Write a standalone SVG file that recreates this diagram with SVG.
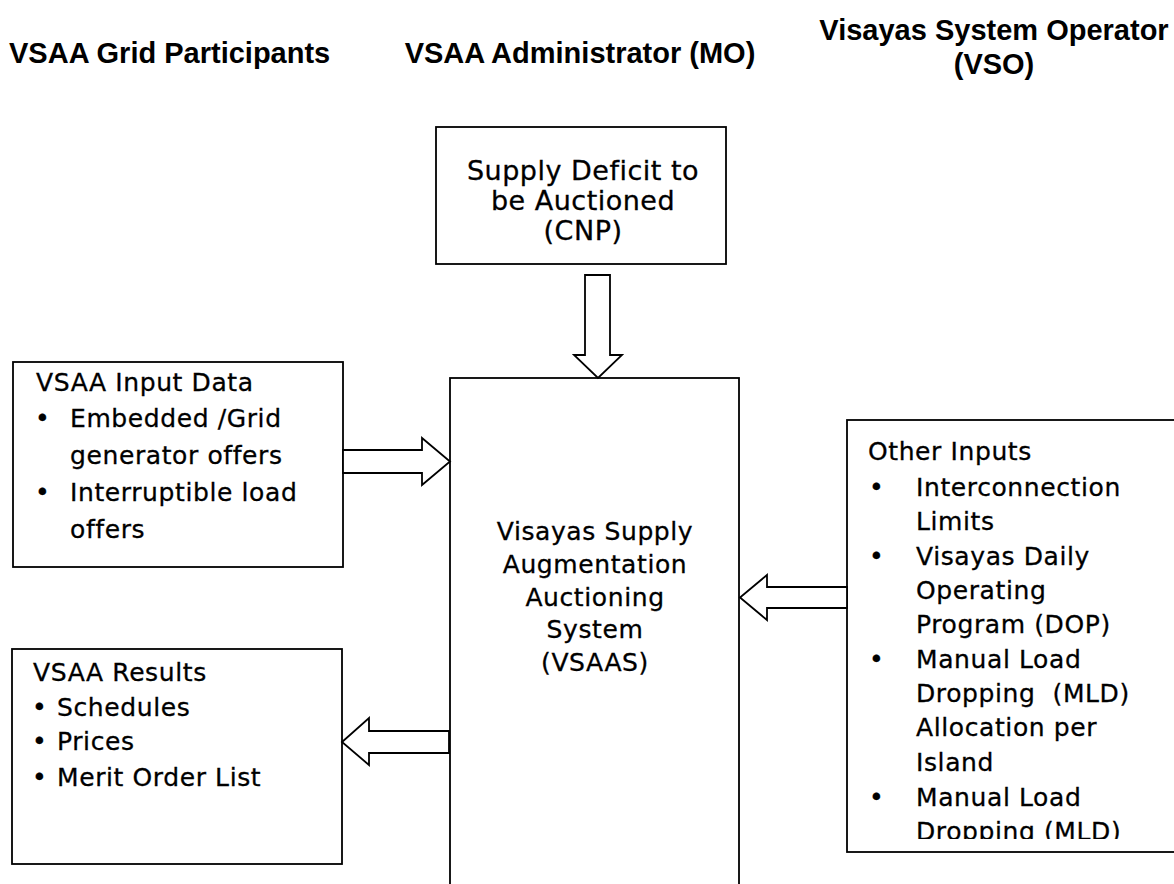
<svg xmlns="http://www.w3.org/2000/svg" width="1174" height="884" viewBox="0 0 1174 884">
<style>
.hdr{font-family:"Liberation Sans",Arial,sans-serif;font-weight:bold;font-size:29px;fill:#000}
.t{font-family:"DejaVu Sans",Verdana,sans-serif;font-size:25px;letter-spacing:0.6px;fill:#000;stroke:#000;stroke-width:0.3;white-space:pre}
.big{font-size:27px;letter-spacing:0.5px}
.c{text-anchor:middle}
.box{fill:#fff;stroke:#000;stroke-width:1.8}
.arr{fill:#fff;stroke:#000;stroke-width:1.8;stroke-linejoin:miter}
</style>
<defs>
<clipPath id="clipOther"><rect x="847" y="420" width="330" height="419"/></clipPath>
</defs>
<rect width="1174" height="884" fill="#fff"/>
<g id="headers">
<text class="hdr" x="9" y="63">VSAA Grid Participants</text>
<text class="hdr c" x="580" y="63">VSAA Administrator (MO)</text>
<text class="hdr c" x="994" y="40">Visayas System Operator</text>
<text class="hdr c" x="994" y="74">(VSO)</text>
</g>
<g id="supply-deficit">
<rect class="box" x="436" y="127" width="290" height="137"/>
<text class="t big c" x="583" y="180">Supply Deficit to</text>
<text class="t big c" x="583" y="210">be Auctioned</text>
<text class="t big c" x="583" y="240">(CNP)</text>
</g>
<g id="vsaas">
<rect class="box" x="450" y="378" width="289" height="530"/>
<text class="t c" x="595" y="540">Visayas Supply</text>
<text class="t c" x="595" y="573">Augmentation</text>
<text class="t c" x="595" y="606">Auctioning</text>
<text class="t c" x="595" y="638">System</text>
<text class="t c" x="595" y="671">(VSAAS)</text>
</g>
<g id="input-data">
<rect class="box" x="13" y="362" width="330" height="205"/>
<text class="t" x="36" y="391">VSAA Input Data</text>
<text class="t" x="35" y="427">•</text>
<text class="t" x="70" y="427">Embedded /Grid</text>
<text class="t" x="70" y="464">generator offers</text>
<text class="t" x="35" y="501">•</text>
<text class="t" x="70" y="501">Interruptible load</text>
<text class="t" x="70" y="538">offers</text>
</g>
<g id="results">
<rect class="box" x="12" y="649" width="330" height="215"/>
<text class="t" x="33" y="681">VSAA Results</text>
<text class="t" x="32" y="716">•</text>
<text class="t" x="57" y="716">Schedules</text>
<text class="t" x="32" y="750">•</text>
<text class="t" x="57" y="750">Prices</text>
<text class="t" x="32" y="786">•</text>
<text class="t" x="57" y="786">Merit Order List</text>
</g>
<g id="other-inputs">
<rect class="box" x="847" y="420" width="340" height="432"/>
<g clip-path="url(#clipOther)">
<text class="t" x="868" y="460">Other Inputs</text>
<text class="t" x="869" y="496">•</text>
<text class="t" x="916" y="496">Interconnection</text>
<text class="t" x="916" y="530">Limits</text>
<text class="t" x="869" y="565">•</text>
<text class="t" x="916" y="565">Visayas Daily</text>
<text class="t" x="916" y="599">Operating</text>
<text class="t" x="916" y="633">Program (DOP)</text>
<text class="t" x="869" y="668">•</text>
<text class="t" x="916" y="668">Manual Load</text>
<text class="t" x="916" y="702">Dropping  (MLD)</text>
<text class="t" x="916" y="736">Allocation per</text>
<text class="t" x="916" y="771">Island</text>
<text class="t" x="869" y="806">•</text>
<text class="t" x="916" y="806">Manual Load</text>
<text class="t" x="916" y="840">Dropping (MLD)</text>
</g>
</g>
<g id="connectors">
<polygon class="arr" points="585,275 610,275 610,355 622,355 598,378 574,355 585,355"/>
<polygon class="arr" points="343,450 422,450 422,438 450,461.5 422,485 422,473 343,473"/>
<polygon class="arr" points="449,731 369,731 369,718 342,742 369,765 369,753 449,753"/>
<polygon class="arr" points="847,587 767,587 767,575 740,597.5 767,620 767,608 847,608"/>
</g>
</svg>
